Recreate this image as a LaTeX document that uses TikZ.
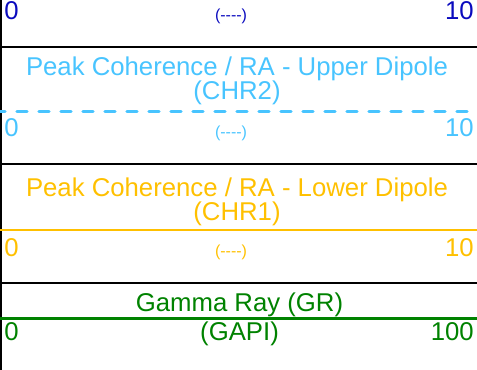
\documentclass[tikz,border=0pt]{standalone}
\usepackage{fontspec}
\setmainfont{Liberation Sans}
\usetikzlibrary{positioning}
\definecolor{scalecol}{RGB}{10,10,190}
\definecolor{uppercol}{RGB}{72,196,255}
\definecolor{lowercol}{RGB}{255,192,0}
\definecolor{grcol}{RGB}{0,130,0}
\newcommand{\nounit}{(-{}-{}-{}-)}

\begin{document}
\begin{tikzpicture}[
    x=0.75pt, y=-0.75pt,
    lbl/.style={inner sep=0pt, font=\fontsize{19.3}{18}\selectfont, align=center},
    sml/.style={inner sep=0pt, font=\fontsize{12}{14}\selectfont},
    sep/.style={draw=black, line width=1.5pt},
]
\useasboundingbox (0,0) rectangle (477,370);
% frame
\draw[sep] (1,0) -- (1,370);
\draw[sep] (0,47) -- (477,47);
\draw[sep] (0,164.5) -- (477,164.5);
\draw[sep] (0,283) -- (477,283);
% top scale
\node[lbl, text=scalecol, anchor=base west] (min0) at (4,19.5) {0};
\node[sml, text=scalecol, anchor=base] (unit0) at (231,20.5) {\nounit};
\node[lbl, text=scalecol, anchor=base east] (max0) at (474,19.5) {10};
% upper dipole
\node[lbl, text=uppercol, anchor=base] (chr2) at (237,100) {Peak Coherence / RA - Upper Dipole\\(CHR2)};
\draw[uppercol, line width=2.5pt, line cap=round, dash pattern=on 7.5pt off 9pt, dash phase=3.75pt] (0,111.5) -- (477,111.5);
\node[lbl, text=uppercol, anchor=base west] (min2) at (4,137) {0};
\node[sml, text=uppercol, anchor=base] (unit2) at (231,138) {\nounit};
\node[lbl, text=uppercol, anchor=base east] (max2) at (474,137) {10};
% lower dipole
\node[lbl, text=lowercol, anchor=base] (chr1) at (237,220) {Peak Coherence / RA - Lower Dipole\\(CHR1)};
\draw[lowercol, line width=2pt] (0,230) -- (477,230);
\node[lbl, text=lowercol, anchor=base west] (min1) at (4,256) {0};
\node[sml, text=lowercol, anchor=base] (unit1) at (231,256.5) {\nounit};
\node[lbl, text=lowercol, anchor=base east] (max1) at (474,256) {10};
% gamma ray
\node[lbl, text=grcol, anchor=base] (gr) at (239.5,311) {Gamma Ray (GR)};
\draw[grcol, line width=2.5pt] (0,318.5) -- (477,318.5);
\node[lbl, text=grcol, anchor=base west] (mingr) at (4,340) {0};
\node[lbl, text=grcol, anchor=base] (unitgr) at (239.5,340) {(GAPI)};
\node[lbl, text=grcol, anchor=base east] (maxgr) at (474,340) {100};
\end{tikzpicture}
\end{document}
